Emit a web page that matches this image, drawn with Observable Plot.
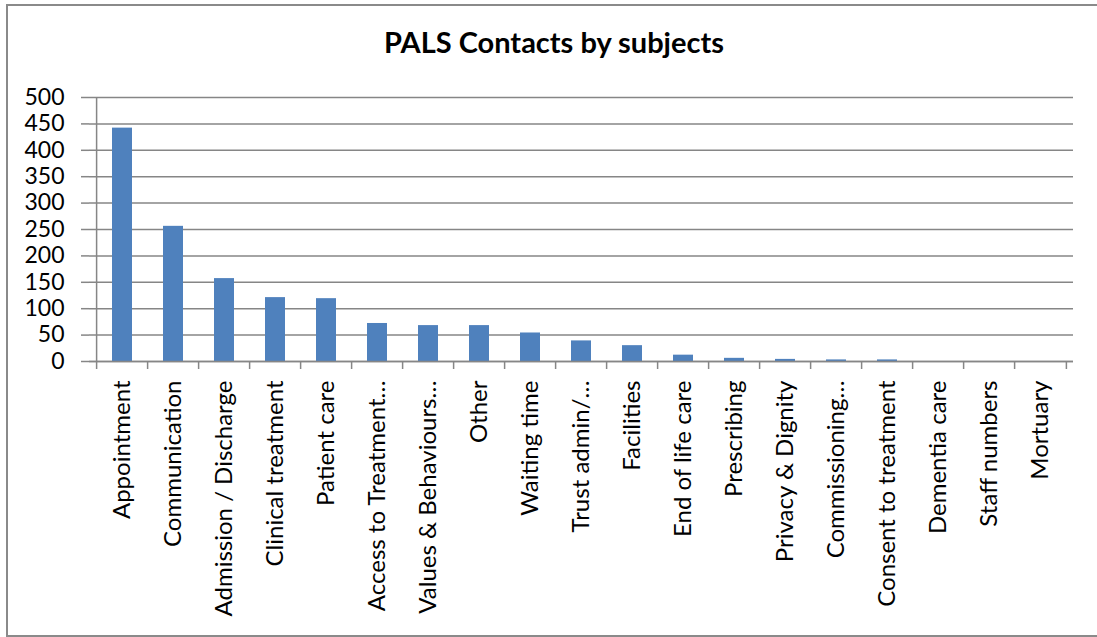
<!DOCTYPE html>
<html><head><meta charset="utf-8">
<script src="https://cdn.jsdelivr.net/npm/d3@7"></script>
<script src="https://cdn.jsdelivr.net/npm/@observablehq/plot@0.6"></script>
<style>
html,body{margin:0;padding:0;background:#fff;overflow:hidden;}
#wrap{position:relative;width:1097px;height:637px;overflow:hidden;font-family:Lato,"Open Sans",sans-serif;}
#title{height:70px;box-sizing:border-box;padding-top:27px;padding-left:11px;text-align:center;font-weight:bold;font-size:29px;line-height:1;color:#000;white-space:nowrap;}
.ln{position:absolute;background:#8a8a8a;pointer-events:none;}
#lnL{left:6px;top:4px;width:2px;height:633px;}
#lnT{left:6px;top:4px;width:1091px;height:2px;}
#lnB{left:6px;top:635px;width:1091px;height:2px;}
</style>
</head><body>
<div id="wrap">
<div id="title">PALS Contacts by subjects</div>
<div id="chart"></div>
<div class="ln" id="lnL"></div><div class="ln" id="lnT"></div><div class="ln" id="lnB"></div>
</div>
<script>
const categories = ["Appointment","Communication","Admission / Discharge","Clinical treatment","Patient care","Access to Treatment…","Values & Behaviours…","Other","Waiting time","Trust admin/…","Facilities","End of life care","Prescribing","Privacy & Dignity","Commissioning…","Consent to treatment","Dementia care","Staff numbers","Mortuary"];
const counts = [442,256,157,121,119,72,68,68,54,39,30,12,6,4,3,3,0,0,0];
const yTicks = [0,50,100,150,200,250,300,350,400,450,500];

const data = categories.map((c,i)=>({subject:c, count:counts[i]}));
const W = 1097, H = 567, mL = 89, mR = 24, mT = 27, mB = 276;
const step = (W - mL - mR) / categories.length;
const grey = "#868686";

const chart = Plot.plot({
  width: W, height: H,
  marginLeft: mL, marginRight: mR, marginTop: mT, marginBottom: mB,
  style: {fontFamily: "Lato, 'Open Sans', sans-serif", fontSize: "23px", color: "#000", background: "transparent", overflow: "visible"},
  x: {type: "band", domain: categories, paddingInner: 0.6, paddingOuter: 0.3, label: null},
  y: {domain: [0, 500], label: null},
  marks: [
    Plot.gridY(yTicks, {stroke: grey, strokeOpacity: 1, strokeWidth: 1.5}),
    Plot.barY(data, {x: "subject", y: "count", fill: "#4F81BD"}),
    Plot.ruleY([0], {stroke: grey, strokeWidth: 1.5}),
    Plot.ruleX([categories[0]], {x: d => d, dx: -step/2, y1: 0, y2: 500, stroke: grey, strokeWidth: 1.5}),
    Plot.ruleX(categories, {x: d => d, dx: -step/2, y1: 0, y2: 0, insetBottom: -8, stroke: grey, strokeWidth: 1.5}),
    Plot.ruleX([categories[categories.length-1]], {x: d => d, dx: step/2, y1: 0, y2: 0, insetBottom: -8, stroke: grey, strokeWidth: 1.5}),
    Plot.axisY(yTicks, {tickSize: 8, tickPadding: 17, fontSize: 23, stroke: grey, strokeWidth: 1.5, fill: "#000", label: null}),
    Plot.axisX({tickSize: 0, tickPadding: 19, tickRotate: -90, fontSize: 24, fill: "#000", label: null})
  ]
});
document.getElementById("chart").appendChild(chart);
</script>
</body></html>
